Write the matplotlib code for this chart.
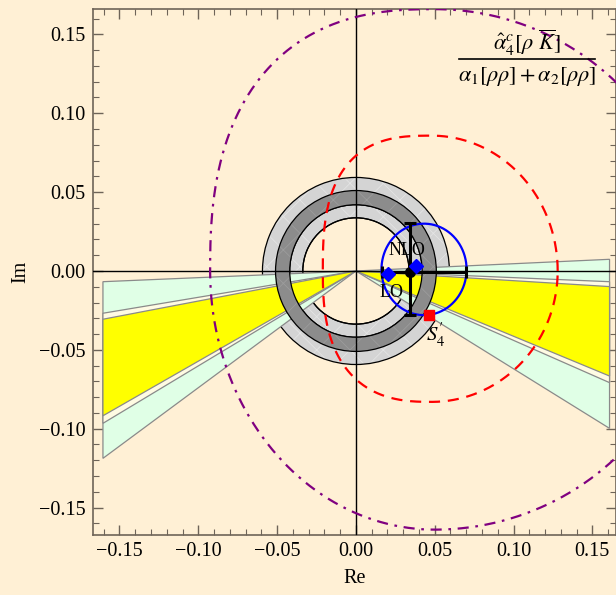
import numpy as np
import matplotlib
matplotlib.use("Agg")
import matplotlib.pyplot as plt
from matplotlib.patches import Wedge, Polygon
from matplotlib.ticker import MultipleLocator, FuncFormatter

plt.rcParams['font.family'] = ['Liberation Serif', 'DejaVu Serif']
plt.rcParams['mathtext.fontset'] = 'stix'
plt.rcParams['hatch.linewidth'] = 0.6

bg = '#FFF0D5'
frame_col = '#6E6458'

# angular bands: end abscissa and the two ordinates at that end
left_x = -0.1605
left_green = [-0.0068, -0.1188]
left_gap = [-0.0268, -0.0966]
left_yellow = [-0.0306, -0.0918]

right_x = 0.1609
right_green = [0.0074, -0.0998]
right_gap = [-0.0068, -0.0708]
right_yellow = [-0.0099, -0.0666]

# annulus radii (light outer, dark band, light inner)
ring_r = [0.0593, 0.0510, 0.0420, 0.0337]

# closed curves: centre, half-widths (left, right), half-heights (top, bottom),
# quadrant exponents (UL, LL, UR, LR)
purple_curve = dict(c=(0.050, 0.0), a=(0.1425, 0.166), b=(0.166, 0.164),
                    n=(2.5, 2.0, 2.0, 2.0))
red_curve = dict(c=(0.048, 0.0), a=(0.069, 0.080), b=(0.0858, 0.083),
                 n=(2.8, 2.6, 2.0, 2.0))
blue_curve = dict(c=(0.0432, 0.001), a=(0.027, 0.027), b=(0.029, 0.029),
                  n=(2.0, 2.0, 2.0, 2.0))

# central value with asymmetric errors
pt_re, pt_im = 0.0343, -0.0004
re_lo, re_hi = 0.0163, 0.0698
im_lo, im_hi = -0.0279, 0.0302

lo_pt = (0.0205, -0.0021)
nlo_pt = (0.0381, 0.0034)
s4_pt = (0.0463, -0.0279)


def closed_curve(c, a, b, n, num=600):
    t = np.linspace(0, 2 * np.pi, num)
    ct, st = np.cos(t), np.sin(t)
    ax_ = np.where(ct >= 0, a[1], a[0])
    by_ = np.where(st >= 0, b[0], b[1])
    ex = np.where(ct < 0, np.where(st >= 0, n[0], n[1]),
                  np.where(st >= 0, n[2], n[3]))
    x = c[0] + ax_ * np.sign(ct) * np.abs(ct) ** (2 / ex)
    y = c[1] + by_ * np.sign(st) * np.abs(st) ** (2 / ex)
    return x, y


def band(x_end, ys, color, z):
    ax.add_patch(Polygon([(0, 0), (x_end, ys[0]), (x_end, ys[1])], closed=True,
                         facecolor=color, edgecolor='#8A8A8A', lw=0.9, zorder=z))


def ring(r_out, r_in, face, hatch_col, z):
    ax.add_patch(Wedge((0, 0), r_out, 0, 360, width=r_out - r_in,
                       facecolor=face, edgecolor='none', zorder=z))
    ax.add_patch(Wedge((0, 0), r_out, 0, 360, width=r_out - r_in,
                       facecolor='none', edgecolor=hatch_col, hatch='x',
                       lw=0, zorder=z))
    ax.add_patch(Wedge((0, 0), r_out, 0, 360, width=r_out - r_in,
                       facecolor='none', edgecolor='black', lw=0.9, zorder=z))


fig = plt.figure(figsize=(6.16, 5.95), dpi=100, facecolor=bg)
ax = fig.add_axes([92.7 / 616, 60 / 595, 523.3 / 616, 526 / 595])
ax.set_facecolor(bg)
ax.set_xlim(-0.167, 0.165)
ax.set_ylim(-0.1674, 0.1661)

# light grey annulus sits under the bands, dark one above
ring(ring_r[0], ring_r[3], '#D4D4D4', '#E4E4E4', 1)
ax.add_patch(Wedge((0, 0), ring_r[2], 0, 360, width=ring_r[2] - ring_r[3],
                   facecolor='none', edgecolor='black', lw=0.9, zorder=1))

for side_x, green, gap, yellow in [(left_x, left_green, left_gap, left_yellow),
                                   (right_x, right_green, right_gap, right_yellow)]:
    band(side_x, green, '#E0FFE6', 2)
    band(side_x, gap, '#FFFBE3', 2)
    band(side_x, yellow, '#FFFF00', 2)

ring(ring_r[1], ring_r[2], '#8C8C8C', '#9C9C9C', 3)

ax.axhline(0, color='black', lw=1.0, zorder=4)
ax.axvline(0, color='black', lw=1.0, zorder=4)

x, y = closed_curve(**purple_curve)
ax.plot(x, y, color='#800080', lw=1.6, dashes=(5, 3, 1.2, 3), zorder=5)
x, y = closed_curve(**red_curve)
ax.plot(x, y, color='#FF0000', lw=1.6, dashes=(5, 3.5), zorder=5)
x, y = closed_curve(**blue_curve)
ax.plot(x, y, color='#0000FF', lw=1.6, zorder=5)

ax.errorbar([pt_re], [pt_im],
            xerr=[[pt_re - re_lo], [re_hi - pt_re]],
            yerr=[[pt_im - im_lo], [im_hi - pt_im]],
            fmt='o', color='black', ms=7, elinewidth=2.2, capsize=4,
            capthick=2.2, zorder=6)
ax.plot(*lo_pt, marker='D', color='#0000FF', ms=7, zorder=7)
ax.plot(*nlo_pt, marker='D', color='#0000FF', ms=7, zorder=7)
ax.plot(*s4_pt, marker='s', color='#FF0000', ms=7, zorder=7)

ax.text(0.0322, 0.0127, 'NLO', fontsize=13, ha='center', va='center', zorder=8)
ax.text(0.0227, -0.0135, 'LO', fontsize=13, ha='center', va='center', zorder=8)
ax.text(0.0505, -0.0408, r"$S_4'$", fontsize=15, ha='center', va='center', zorder=8)

# ratio label: numerator, bar, denominator
ax.text(0.1085, 0.1450, r'$\hat{\alpha}_4^c[\rho\ \overline{K}]$',
        fontsize=16, ha='center', va='center', zorder=8)
ax.plot([0.0655, 0.1515], [0.1345, 0.1345], color='black', lw=1.2, zorder=8)
ax.text(0.1085, 0.1230, r'$\alpha_1[\rho\rho]+\alpha_2[\rho\rho]$',
        fontsize=16, ha='center', va='center', zorder=8)

# frame and ticks
for sp in ax.spines.values():
    sp.set_color(frame_col)
    sp.set_linewidth(1.2)
for axis in (ax.xaxis, ax.yaxis):
    axis.set_major_locator(MultipleLocator(0.05))
    axis.set_minor_locator(MultipleLocator(0.01))
    axis.set_major_formatter(FuncFormatter(lambda v, p: f'{v:.2f}'.replace('-', '\u2212')))
ax.tick_params(which='both', direction='in', top=True, right=True, color=frame_col,
               labelsize=14.5)
ax.tick_params(which='major', length=7, width=1.0, pad=5)
ax.tick_params(which='minor', length=4, width=0.8)

ax.set_xlabel('Re', fontsize=14.5, labelpad=6)
ax.set_ylabel('Im', fontsize=14.5, labelpad=6)

fig.savefig('out.png', dpi=100, facecolor=bg)
